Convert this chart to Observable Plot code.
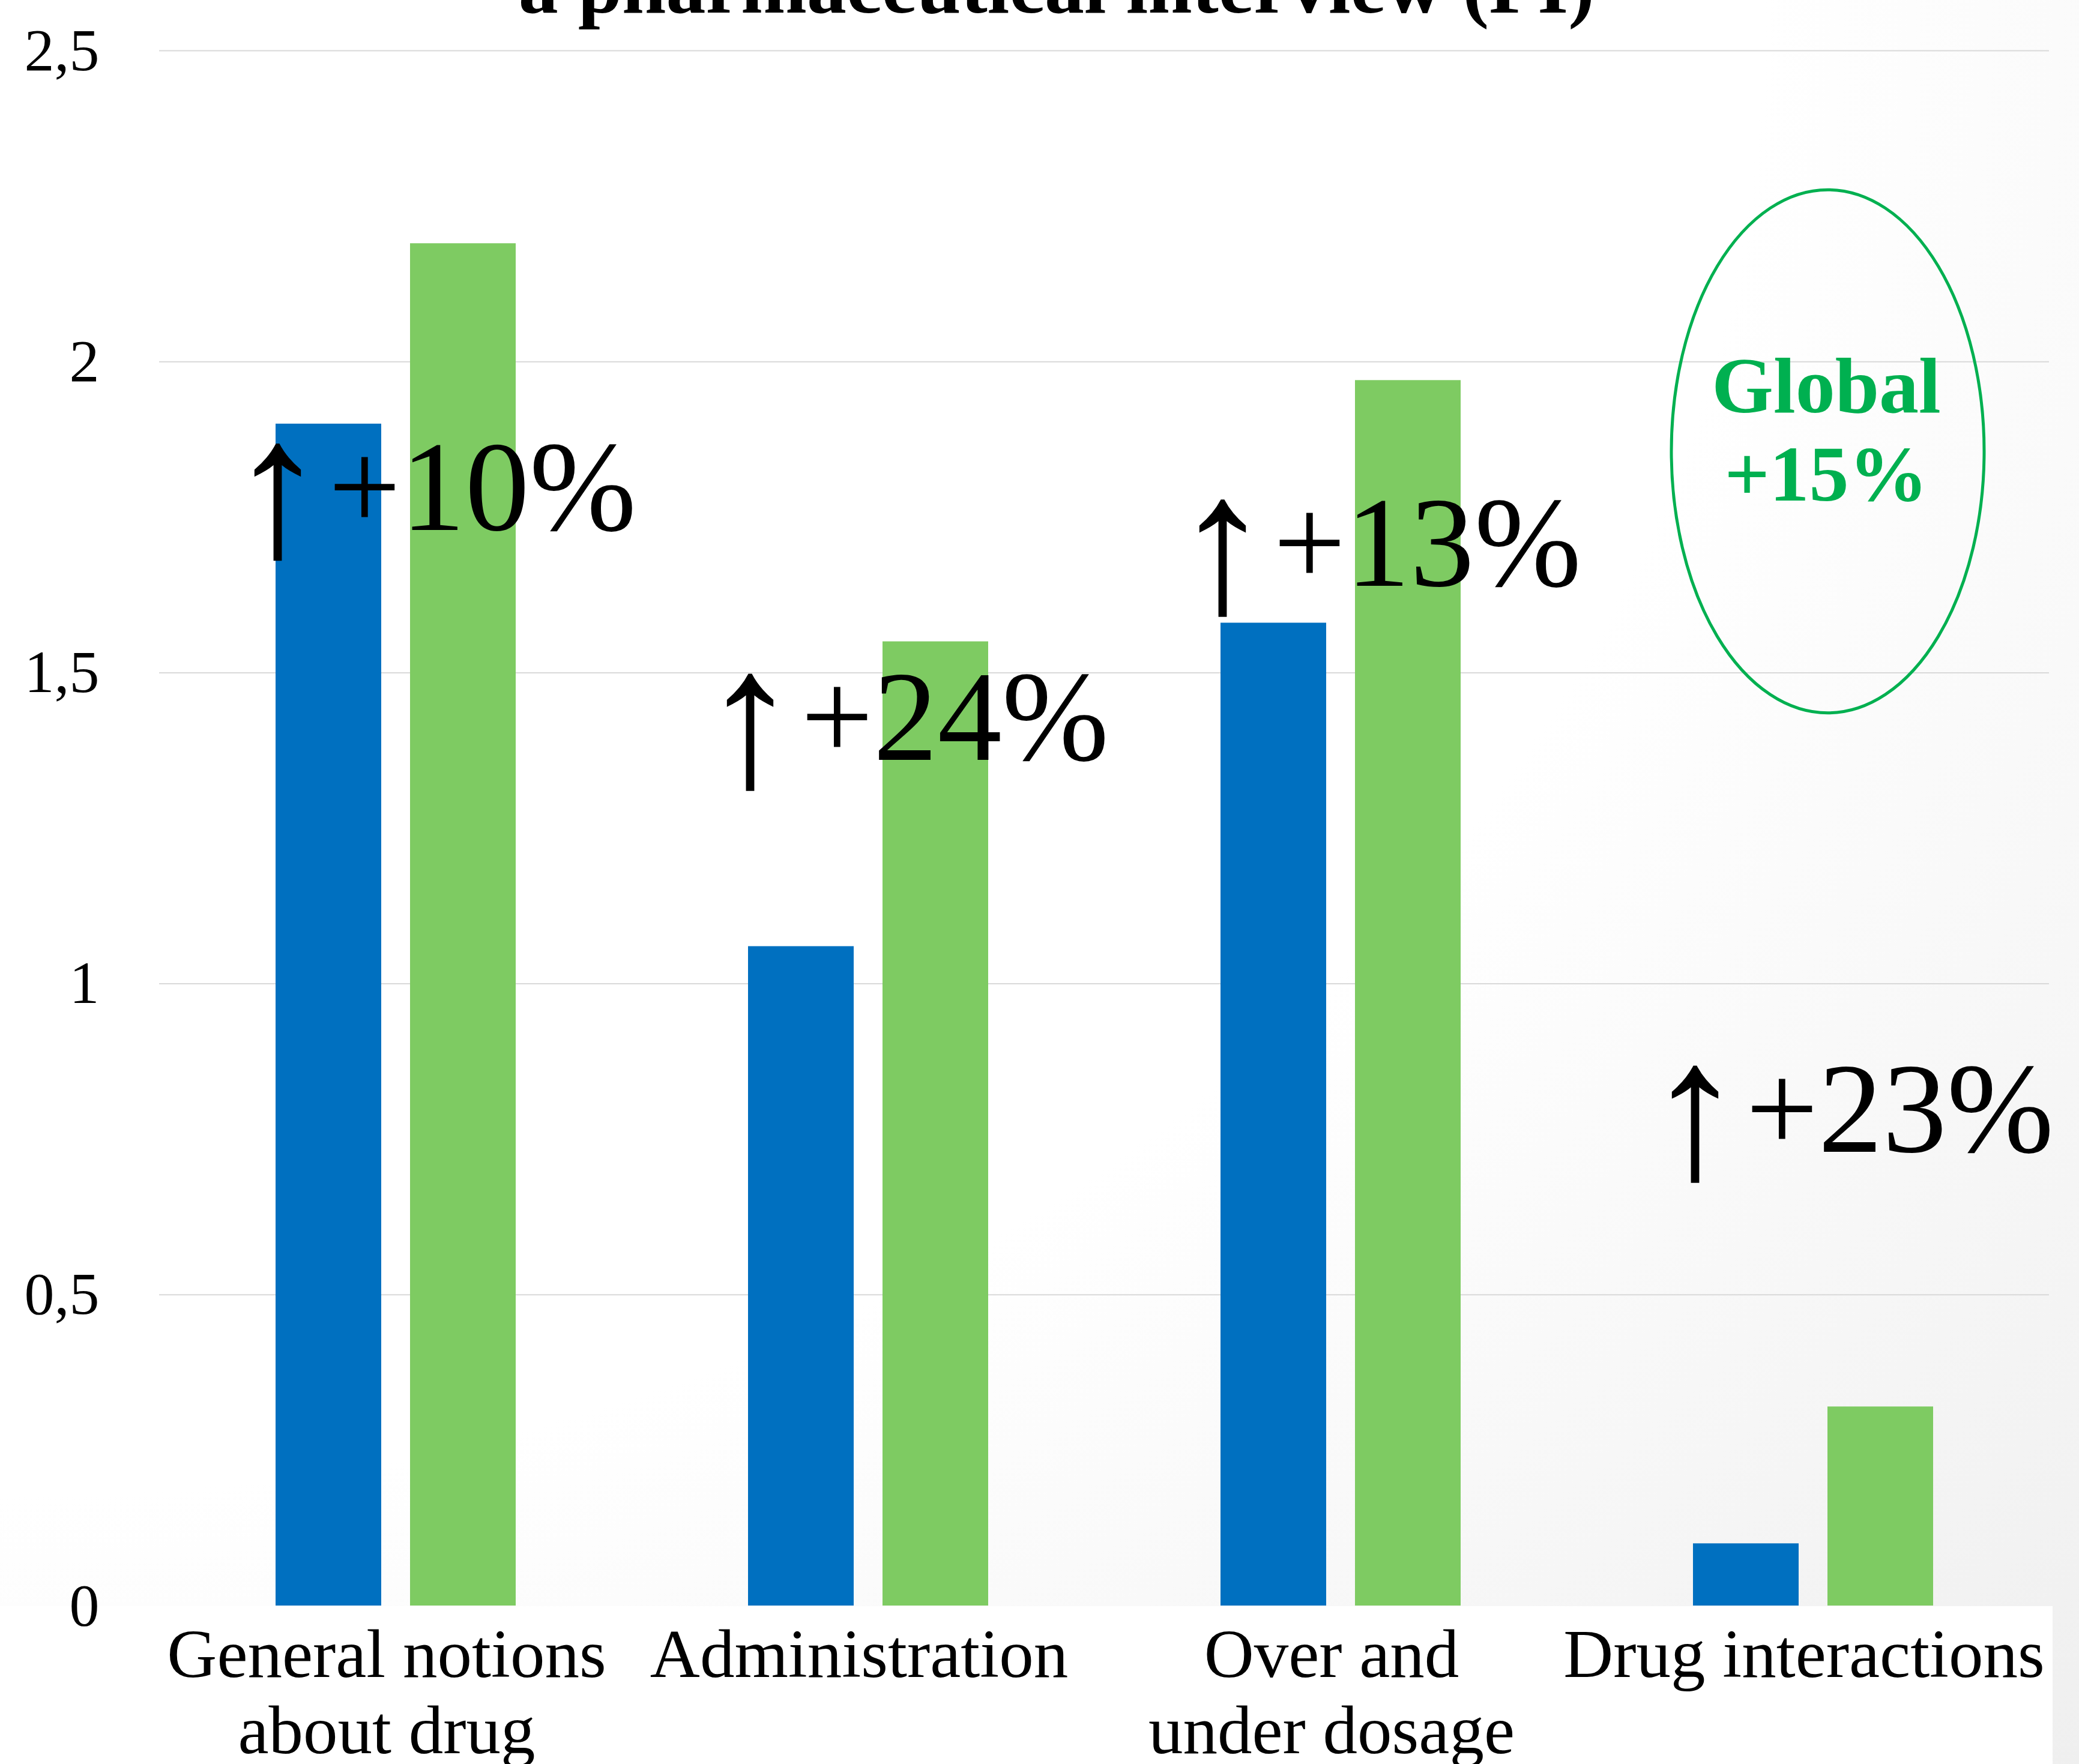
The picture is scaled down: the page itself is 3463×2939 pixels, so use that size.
<!DOCTYPE html>
<html>
<head>
<meta charset="utf-8">
<script src="https://cdn.jsdelivr.net/npm/d3@7"></script>
<script src="https://cdn.jsdelivr.net/npm/@observablehq/plot@0.6"></script>
<style>
  html, body { margin: 0; padding: 0; background: #fff; }
  #page {
    position: relative; width: 3463px; height: 2939px; overflow: hidden;
    background: radial-gradient(ellipse at 0% 0%, #ffffff 60%, #efefef 100%);
  }
  #band { position: absolute; left: 0; top: 2676px; width: 3419px; height: 263px; background: #fff; }
  #chart { position: absolute; left: 0; top: 0; }
  #title {
    position: absolute; left: 0; width: 3520px; top: -89px; text-align: center;
    font-family: "Liberation Serif", serif; font-weight: bold; font-size: 132px; line-height: 1; color: #000;
    white-space: nowrap;
  }
</style>
</head>
<body>
<div id="page">
  <div id="band"></div>
  <div id="chart"></div>
  <div id="title">a pharmaceutical interview (PI)</div>
</div>
<script>
// ---- data ----
const categories = ["General notions about drug", "Administration", "Over and under dosage", "Drug interactions"];
const categoryLabels = ["General notions\nabout drug", "Administration", "Over and\nunder dosage", "Drug interactions"];
const seriesNames = ["Before PI", "After PI"];
const beforeValues = [1.9, 1.06, 1.58, 0.1];
const afterValues = [2.19, 1.55, 1.97, 0.32];
const changeArrow = "↑";
const changeLabels = ["+10%", "+24%", "+13%", "+23%"];
const changeLabelY = [1.73, 1.36, 1.64, 0.73];
const globalCategory = "Drug interactions";
const globalLabel = "Global\n+15%";
const globalLabelY = 1.777;
const globalRingY = [1.435, 2.276];
const yTicks = [0, 0.5, 1, 1.5, 2, 2.5];
const seriesColors = ["#0070C0", "#7ECB62"];

// ---- tables ----
const rows = categories.flatMap((c, i) => [
  {category: c, series: seriesNames[0], value: beforeValues[i]},
  {category: c, series: seriesNames[1], value: afterValues[i]}
]);
const changes = categories.map((c, i) => ({category: c, arrow: changeArrow, label: changeLabels[i], y: changeLabelY[i]}));
const globalRows = [{category: globalCategory, label: globalLabel, y: globalLabelY, y1: globalRingY[0], y2: globalRingY[1]}];

const chart = Plot.plot({
  width: 3463,
  height: 2939,
  marginLeft: 265,
  marginRight: 50,
  marginTop: 84,
  marginBottom: 264,
  style: {background: "transparent", fontFamily: "Liberation Serif", color: "#000", overflow: "visible"},
  fx: {domain: categories, padding: 0},
  x: {domain: seriesNames, paddingInner: 0.2143, paddingOuter: 0.8638, axis: null},
  y: {domain: [0, 2.5]},
  color: {domain: seriesNames, range: seriesColors},
  marks: [
    Plot.gridY(yTicks.filter(d => d > 0), {stroke: "#d9d9d9", strokeOpacity: 1, strokeWidth: 2}),
    Plot.barY(rows, {fx: "category", x: "series", y: "value", fill: "series"}),
    Plot.axisY(yTicks, {tickSize: 0, tickPadding: 100, fontSize: 100, label: null,
      tickFormat: d => String(d).replace(".", ",")}),
    Plot.axisFx({anchor: "bottom", tickSize: 0, tickPadding: 29, fontSize: 115, lineHeight: 1.1, label: null, dx: -15,
      tickFormat: d => categoryLabels[categories.indexOf(d)]}),
    Plot.text(changes, {fx: "category", y: "y", text: "arrow", fontSize: 330, lineAnchor: "bottom", textAnchor: "end",
      dx: -114, dy: 42, fill: "#000"}),
    Plot.text(changes, {fx: "category", y: "y", text: "label", fontSize: 214, lineAnchor: "bottom", textAnchor: "start",
      dx: -112, fill: "#000"}),
    Plot.rect(globalRows, {fx: "category", y1: "y1", y2: "y2", insetLeft: 158, insetRight: 108, rx: 3000, ry: 3000,
      fill: "none", stroke: "#00B050", strokeWidth: 5}),
    Plot.text(globalRows, {fx: "category", y: "y", text: "label", fontSize: 132, fontWeight: "bold", fill: "#00B050",
      lineAnchor: "bottom", lineHeight: 1.11, dx: 22})
  ]
});
document.getElementById("chart").appendChild(chart);
</script>
</body>
</html>
